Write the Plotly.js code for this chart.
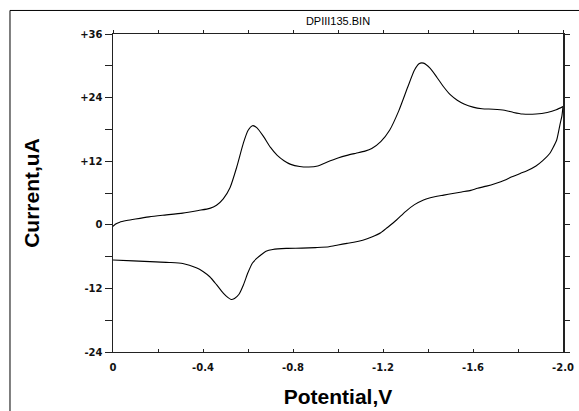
<!DOCTYPE html>
<html>
<head>
<meta charset="utf-8">
<script src="https://cdn.plot.ly/plotly-3.0.1.min.js"></script>
<style>html,body{margin:0;padding:0;background:#fff;}</style>
</head>
<body>
<div id="chart" style="width:579px;height:411px;"></div>
<script>
// Forward scan (0 -> -2.0 V)
const forwardPotential = [0, -0.01, -0.03, -0.06, -0.1, -0.16, -0.22, -0.31, -0.38, -0.43, -0.46, -0.49, -0.52, -0.55, -0.58, -0.60, -0.62, -0.64, -0.67, -0.70, -0.73, -0.76, -0.79, -0.83, -0.87, -0.91, -0.95, -1.0, -1.04, -1.08, -1.12, -1.15, -1.19, -1.23, -1.27, -1.31, -1.34, -1.36, -1.38, -1.41, -1.44, -1.47, -1.50, -1.53, -1.56, -1.60, -1.64, -1.69, -1.74, -1.78, -1.82, -1.88, -1.93, -1.97, -2.0];
const forwardCurrent = [-0.3, 0.1, 0.5, 0.8, 1.1, 1.5, 1.8, 2.2, 2.7, 3.1, 3.7, 4.9, 7.0, 10.9, 15.5, 17.8, 18.7, 18.3, 16.6, 14.6, 13.1, 12.1, 11.4, 11.0, 10.9, 11.1, 11.8, 12.6, 13.1, 13.5, 13.9, 14.4, 15.7, 17.9, 21.5, 26.0, 29.2, 30.4, 30.5, 29.5, 27.8, 26.0, 24.5, 23.5, 22.8, 22.2, 21.9, 21.8, 21.6, 21.2, 20.9, 20.9, 21.2, 21.7, 22.3];
// Reverse scan (-2.0 -> 0 V)
const reversePotential = [-2.0, -1.995, -1.987, -1.972, -1.955, -1.94, -1.91, -1.88, -1.84, -1.81, -1.77, -1.74, -1.70, -1.66, -1.62, -1.59, -1.55, -1.51, -1.47, -1.44, -1.41, -1.38, -1.34, -1.30, -1.26, -1.22, -1.19, -1.15, -1.11, -1.07, -1.04, -1.0, -0.96, -0.90, -0.84, -0.77, -0.71, -0.68, -0.66, -0.64, -0.62, -0.60, -0.58, -0.56, -0.54, -0.525, -0.51, -0.49, -0.46, -0.43, -0.40, -0.37, -0.31, -0.25, -0.19, -0.09, 0];
const reverseCurrent = [22.3, 20.5, 19.0, 16.0, 14.5, 13.4, 12.1, 11.1, 10.2, 9.7, 9.0, 8.4, 7.8, 7.3, 6.9, 6.5, 6.2, 5.9, 5.6, 5.4, 5.1, 4.7, 3.8, 2.5, 0.9, -0.5, -1.5, -2.3, -2.9, -3.3, -3.5, -3.8, -4.15, -4.3, -4.4, -4.45, -4.65, -5.0, -5.6, -6.3, -7.2, -9.0, -11.3, -13.1, -13.9, -14.1, -13.7, -12.9, -11.3, -9.8, -8.8, -8.1, -7.3, -7.1, -7.0, -6.8, -6.65];

const xTickVals = [0, -0.4, -0.8, -1.2, -1.6, -2.0];
const xTickText = ['0', '-0.4', '-0.8', '-1.2', '-1.6', '-2.0'];
const yTickVals = [-24, -12, 0, 12, 24, 36];
const yTickText = ['-24', '-12', '0', '+12', '+24', '+36'];

const lineStyle = {color: '#000', width: 1.1, shape: 'spline', smoothing: 0.6};
const traces = [
  {x: forwardPotential, y: forwardCurrent, mode: 'lines', line: lineStyle, showlegend: false, hoverinfo: 'skip'},
  {x: reversePotential, y: reverseCurrent, mode: 'lines', line: lineStyle, showlegend: false, hoverinfo: 'skip'},
  {x: forwardPotential, y: forwardCurrent, xaxis: 'x2', yaxis: 'y2', mode: 'lines', line: {width: 0}, opacity: 0, showlegend: false, hoverinfo: 'skip'}
];

const tickFont = {family: 'DejaVu Sans', size: 10, color: '#111', weight: 'bold'};
const titleFont = {family: 'Liberation Sans', size: 21, color: '#000', weight: 'bold'};
const axisColor = '#222';
const layout = {
  width: 579, height: 411,
  margin: {l: 113, r: 16, t: 34, b: 59, pad: 0},
  paper_bgcolor: '#fff', plot_bgcolor: '#fff',
  showlegend: false,
  title: {text: 'DPIII135.BIN', font: {family: 'Liberation Sans', size: 11, color: '#000'}, xref: 'paper', x: 0.5, xanchor: 'center', yref: 'container', y: 0.949, yanchor: 'middle'},
  xaxis: {
    range: [0, -2.0], showline: true, linecolor: axisColor, linewidth: 1,
    ticks: 'inside', ticklen: 3, tickcolor: axisColor, tickvals: xTickVals, ticktext: xTickText,
    minor: {tick0: 0, dtick: 0.2, ticks: 'inside', ticklen: 3, tickcolor: axisColor, showgrid: false},
    showgrid: false, zeroline: false, tickfont: tickFont, ticklabelstandoff: 6,
    title: {text: 'Potential,V', font: titleFont, standoff: 17}
  },
  xaxis2: {
    overlaying: 'x', side: 'top', anchor: 'y', range: [0, -2.0], showline: true, linecolor: axisColor, linewidth: 1,
    ticks: 'outside', ticklen: 3, tickcolor: axisColor, tick0: 0, dtick: 0.2, showticklabels: false,
    showgrid: false, zeroline: false
  },
  yaxis: {
    range: [-24, 36], showline: true, linecolor: axisColor, linewidth: 1.5,
    ticks: 'outside', ticklen: 7, tickcolor: axisColor, tickvals: yTickVals, ticktext: yTickText,
    minor: {tick0: 0, dtick: 6, ticks: 'outside', ticklen: 7, tickcolor: axisColor, showgrid: false},
    showgrid: false, zeroline: false, tickfont: tickFont,
    title: {text: 'Current,uA', font: titleFont, standoff: 35}
  },
  yaxis2: {
    overlaying: 'y', side: 'right', anchor: 'x', range: [-24, 36], showline: true, linecolor: axisColor, linewidth: 1.5,
    ticks: 'outside', ticklen: 5, tickcolor: axisColor, tick0: 0, dtick: 6, showticklabels: false,
    showgrid: false, zeroline: false
  },
  shapes: [
    {type: 'line', xref: 'paper', yref: 'paper', x0: -0.2289, x1: 1.04, y0: 1.074, y1: 1.074, line: {color: '#000', width: 1}},
    {type: 'line', xref: 'paper', yref: 'paper', x0: -0.2289, x1: -0.2289, y0: 1.074, y1: -0.2, line: {color: '#000', width: 1}}
  ]
};

Plotly.newPlot('chart', traces, layout, {displayModeBar: false, staticPlot: true});
</script>
</body>
</html>
